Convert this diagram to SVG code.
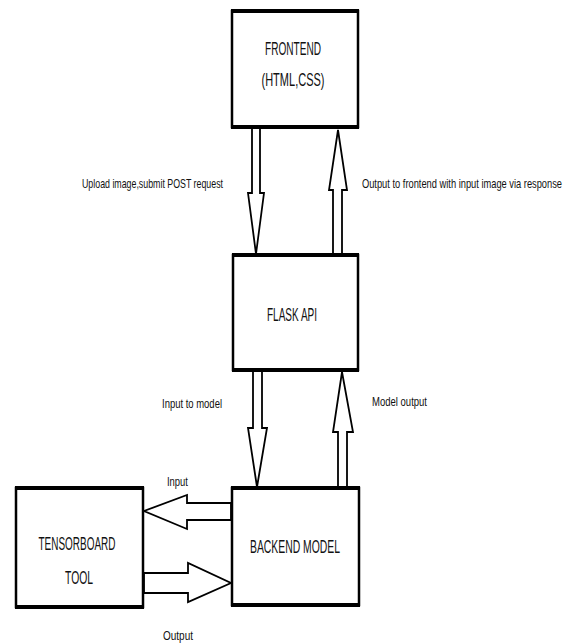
<svg xmlns="http://www.w3.org/2000/svg" width="571" height="644" viewBox="0 0 571 644">
<style>
.box{fill:#fff;stroke:#000;stroke-width:2.5}
.edge{stroke:#000;stroke-width:4}
.arrow{fill:#fff;stroke:#000;stroke-width:1.8;stroke-linejoin:miter}
.big{font-family:"Liberation Sans",Arial,sans-serif;font-size:19px;fill:#111;text-anchor:middle}
.small{font-family:"Liberation Sans",Arial,sans-serif;font-size:13px;fill:#111;text-anchor:middle}
</style>
<rect width="571" height="644" fill="#fff"/>
<g id="connectors">
<polygon class="arrow" points="252,128 260,128 260,193 264,193 256,254 248,193 252,193"/>
<polygon class="arrow" points="333,254 342,254 342,190 347,190 338,130 329,190 333,190"/>
<polygon class="arrow" points="253,371 262,371 262,428 267,428 257,487 248,428 253,428"/>
<polygon class="arrow" points="338,487 347,487 347,432 353,432 342,372 333,432 338,432"/>
<polygon class="arrow" points="231,503 187,503 187,495 144,511 187,529 187,520 231,520"/>
<polygon class="arrow" points="144,573 188,573 188,563 231,583 188,602 188,593 144,593"/>
<text class="small" x="152.5" y="188" textLength="141" lengthAdjust="spacingAndGlyphs">Upload image,submit POST request</text>
<text class="small" transform="translate(462,188) scale(0.69,1)" x="0" y="0" textLength="290" lengthAdjust="spacingAndGlyphs">Output to frontend with input image via response</text>
<text class="small" x="192" y="408" textLength="60" lengthAdjust="spacingAndGlyphs">Input to model</text>
<text class="small" x="399.5" y="406" textLength="55" lengthAdjust="spacingAndGlyphs">Model output</text>
<text class="small" x="177.5" y="486" textLength="21" lengthAdjust="spacingAndGlyphs">Input</text>
<text class="small" x="178" y="640" textLength="30" lengthAdjust="spacingAndGlyphs">Output</text>
</g>
<g id="frontend">
<rect class="box" x="232" y="11" width="126" height="116"/>
<line class="edge" x1="231" y1="11" x2="359" y2="11"/>
<line class="edge" x1="231" y1="127" x2="359" y2="127"/>
<text class="big" x="293" y="55" textLength="56" lengthAdjust="spacingAndGlyphs">FRONTEND</text>
<text class="big" x="293" y="86" textLength="63" lengthAdjust="spacingAndGlyphs">(HTML,CSS)</text>
</g>
<g id="flask">
<rect class="box" x="233" y="255" width="125" height="115"/>
<line class="edge" x1="232" y1="255" x2="359" y2="255"/>
<line class="edge" x1="232" y1="370" x2="359" y2="370"/>
<text class="big" x="292" y="321" textLength="50" lengthAdjust="spacingAndGlyphs">FLASK API</text>
</g>
<g id="backend">
<rect class="box" x="232" y="488" width="127" height="117"/>
<line class="edge" x1="231" y1="488" x2="360" y2="488"/>
<line class="edge" x1="231" y1="605" x2="360" y2="605"/>
<text class="big" x="295" y="553" textLength="90" lengthAdjust="spacingAndGlyphs">BACKEND MODEL</text>
</g>
<g id="tensorboard">
<rect class="box" x="16" y="488" width="127" height="119"/>
<line class="edge" x1="15" y1="488" x2="144" y2="488"/>
<line class="edge" x1="15" y1="607" x2="144" y2="607"/>
<text class="big" x="77" y="550" textLength="77" lengthAdjust="spacingAndGlyphs">TENSORBOARD</text>
<text class="big" x="79" y="584" textLength="28" lengthAdjust="spacingAndGlyphs">TOOL</text>
</g>
</svg>
